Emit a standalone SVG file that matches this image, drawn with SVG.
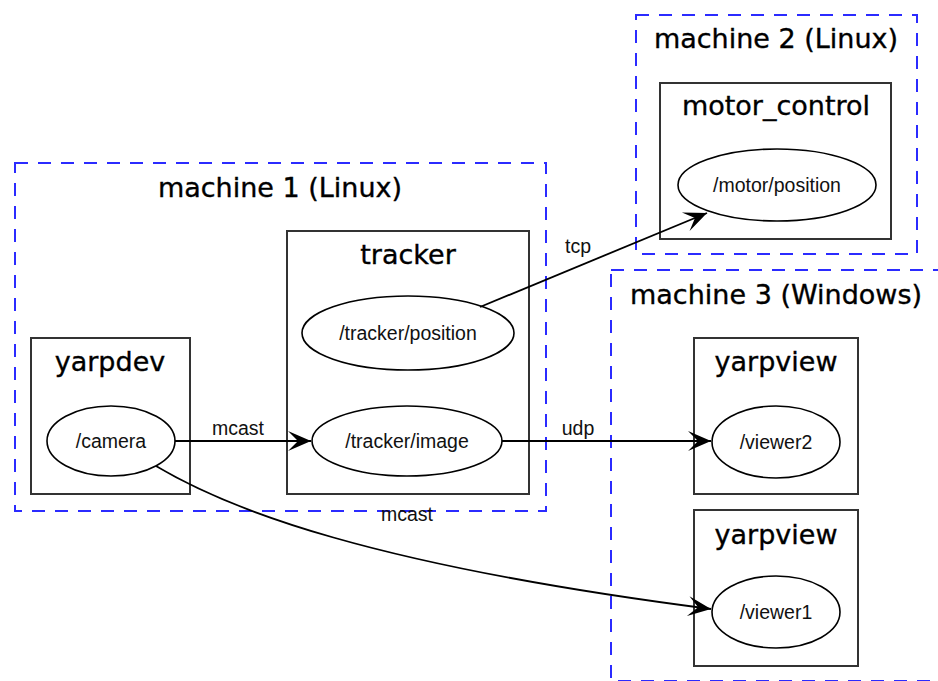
<svg xmlns="http://www.w3.org/2000/svg" width="938" height="681" viewBox="0 0 938 681">
<style>
.cluster{fill:none;stroke:#2b2bff;stroke-width:2;stroke-dasharray:13 10}
.proc{fill:#fff;stroke:#333;stroke-width:2}
.port{fill:#fff;stroke:#000;stroke-width:1.6}
.title{font-family:"DejaVu Sans",sans-serif;font-size:27px;fill:#000;stroke:#000;stroke-width:0.35;text-anchor:middle}
.lbl{font-family:"Liberation Sans",Arial,sans-serif;font-size:19.5px;fill:#111;text-anchor:middle}
.edge{fill:none;stroke:#000;stroke-width:1.8}
</style>
<defs>
<marker id="vee" markerUnits="userSpaceOnUse" markerWidth="26" markerHeight="26" viewBox="-25 -13 26 26" refX="0" refY="0" orient="auto">
<path d="M0,0 L-23,-10 L-13,0 L-23,10 Z" fill="#000"/>
</marker>
</defs>
<rect width="938" height="681" fill="#fff"/>
<g id="machine1">
<rect class="cluster" x="15" y="163" width="531" height="348"/>
<text class="title" x="280" y="197">machine 1 (Linux)</text>
</g>
<g id="machine2">
<rect class="cluster" x="636" y="15" width="281" height="239"/>
<text class="title" x="776" y="48">machine 2 (Linux)</text>
</g>
<g id="machine3">
<rect class="cluster" x="611" y="270" width="345" height="411"/>
<text class="title" x="776" y="304">machine 3 (Windows)</text>
</g>
<g id="yarpdev">
<rect class="proc" x="31" y="338" width="159" height="156"/>
<text class="title" x="110" y="371">yarpdev</text>
</g>
<g id="tracker">
<rect class="proc" x="287" y="231" width="242" height="263"/>
<text class="title" x="408" y="264">tracker</text>
</g>
<g id="motor_control">
<rect class="proc" x="660" y="83" width="231" height="156"/>
<text class="title" x="776" y="115">motor_control</text>
</g>
<g id="yarpview2">
<rect class="proc" x="694" y="338" width="164" height="156"/>
<text class="title" x="776" y="371">yarpview</text>
</g>
<g id="yarpview1">
<rect class="proc" x="694" y="510" width="164" height="156"/>
<text class="title" x="776" y="544">yarpview</text>
</g>
<g id="camera">
<ellipse class="port" cx="111" cy="441" rx="64" ry="35"/>
<text class="lbl" x="111" y="448">/camera</text>
</g>
<g id="tracker_position">
<ellipse class="port" cx="408" cy="333" rx="106" ry="37"/>
<text class="lbl" x="408" y="340">/tracker/position</text>
</g>
<g id="tracker_image">
<ellipse class="port" cx="407" cy="441" rx="95" ry="35"/>
<text class="lbl" x="407" y="448">/tracker/image</text>
</g>
<g id="motor_position">
<ellipse class="port" cx="777" cy="185" rx="99" ry="36"/>
<text class="lbl" x="777" y="192">/motor/position</text>
</g>
<g id="viewer2">
<ellipse class="port" cx="776" cy="442" rx="64" ry="36"/>
<text class="lbl" x="776" y="449">/viewer2</text>
</g>
<g id="viewer1">
<ellipse class="port" cx="776" cy="612" rx="64" ry="36"/>
<text class="lbl" x="776" y="619">/viewer1</text>
</g>
<g id="connectors">
<path class="edge" d="M175,441 L311,441" marker-end="url(#vee)"/>
<text class="lbl" x="238" y="435">mcast</text>
<path class="edge" d="M502,441 L711,441" marker-end="url(#vee)"/>
<text class="lbl" x="578" y="435">udp</text>
<path class="edge" d="M480,307 L707,213" marker-end="url(#vee)"/>
<text class="lbl" x="578" y="253">tcp</text>
<path class="edge" d="M156,466 C230,510 370,565 711,609" marker-end="url(#vee)"/>
<text class="lbl" x="407" y="521">mcast</text>
</g>
</svg>
